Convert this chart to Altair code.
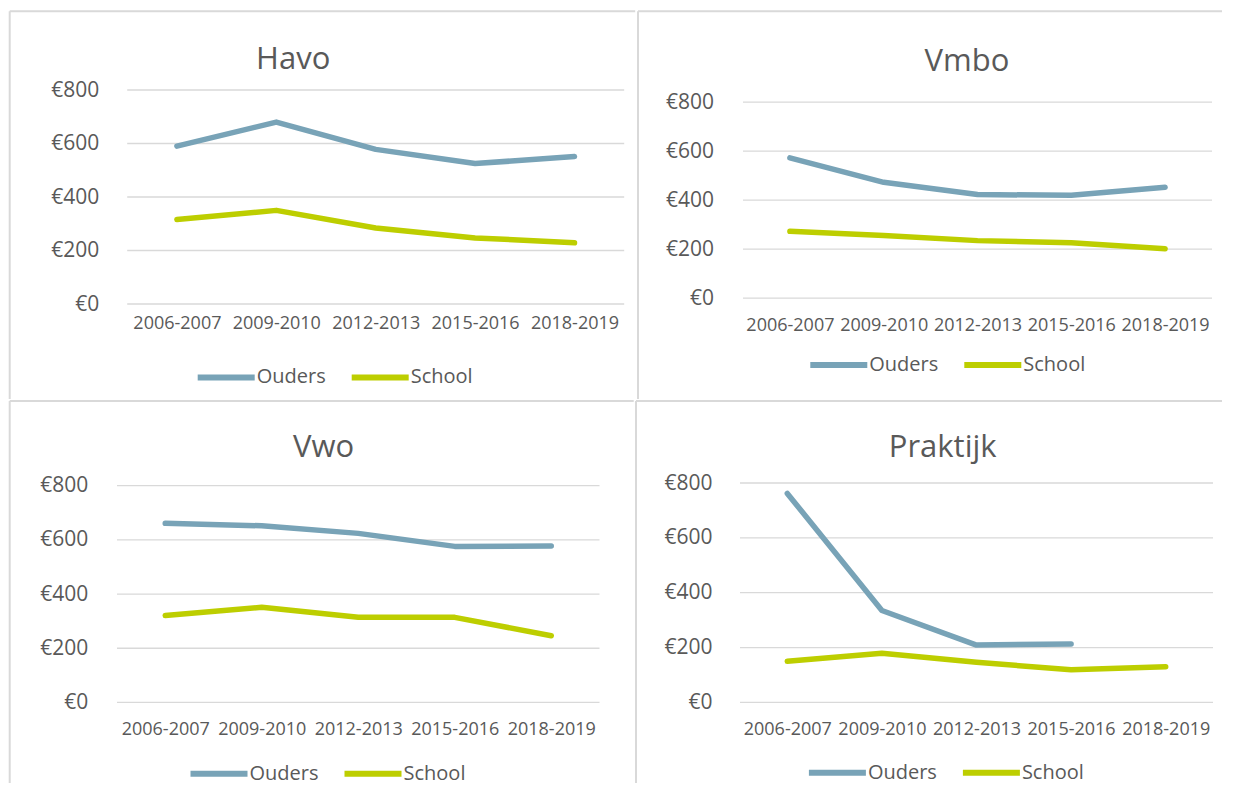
import altair as alt
import pandas as pd

periods = ["2006-2007", "2009-2010", "2012-2013", "2015-2016", "2018-2019"]
series_names = ["Ouders", "School"]
y_ticks = [0, 200, 400, 600, 800]

havo_ouders = [590, 680, 578, 525, 551]
havo_school = [316, 350, 284, 247, 229]
vmbo_ouders = [573, 473, 423, 420, 453]
vmbo_school = [273, 256, 235, 226, 202]
vwo_ouders = [661, 652, 624, 576, 577]
vwo_school = [321, 351, 314, 314, 246]
praktijk_ouders = [762, 335, 209, 213, None]
praktijk_school = [150, 179, 146, 119, 130]

FONT = "Open Sans"
TEXT = "#595959"
GRID = "#D9D9D9"
COLORS = ["#78A3B7", "#BDCE00"]


def panel(name, ouders, school, g):
    rows = []
    for p, o, s in zip(periods, ouders, school):
        rows.append({"period": p, "series": series_names[0], "value": o})
        rows.append({"period": p, "series": series_names[1], "value": s})
    df = pd.DataFrame(rows)

    y_scale = alt.Scale(domain=[0, g["ymax"]], nice=False)
    y_axis = alt.Axis(title=None, values=y_ticks, grid=False,
                      labelExpr="'€' + datum.value", domain=False,
                      ticks=False, tickSize=0, labelPadding=g["ylab"],
                      labelFont=FONT, labelFontSize=21, labelColor=TEXT)

    grid = alt.Chart(pd.DataFrame({"value": y_ticks})).mark_rule(
        color=GRID, strokeWidth=1.3
    ).encode(
        y=alt.Y("value:Q", scale=y_scale, axis=y_axis),
        x=alt.value(g["gx"]), x2=alt.value(g["w"]),
    )

    lines = alt.Chart(df).mark_line(
        strokeWidth=5.5, strokeCap="round", strokeJoin="round"
    ).encode(
        x=alt.X("period:N", sort=periods,
                scale=alt.Scale(padding=0.5, range=[g["gx"], g["w"]]),
                axis=alt.Axis(title=None, labelAngle=0, domain=False, ticks=False,
                              tickSize=0, grid=False, labelPadding=g["xlab"],
                              labelBaseline="middle", labelFont=FONT,
                              labelFontSize=18, labelColor=TEXT,
                              labelOverlap=False, labelBound=False)),
        y=alt.Y("value:Q", scale=y_scale, axis=y_axis),
        color=alt.Color("series:N",
                        scale=alt.Scale(domain=series_names, range=COLORS),
                        legend=alt.Legend(orient="none", legendX=g["legx"] + 16,
                                          legendY=g["legy"] - 12.5,
                                          direction="horizontal",
                                          title=None, symbolType="M-3,0H3",
                                          symbolSize=361, symbolStrokeWidth=6,
                                          labelFont=FONT, labelFontSize=20,
                                          labelColor=TEXT, labelOffset=18,
                                          columnPadding=14, padding=0)),
    )

    one = pd.DataFrame({"label": [name]})
    top_rule = alt.Chart(one).mark_rule(color=GRID, strokeWidth=2).encode(
        x=alt.value(g["fx"]), x2=alt.value(g["fx2"]), y=alt.value(g["fy"]))
    left_rule = alt.Chart(one).mark_rule(color=GRID, strokeWidth=2).encode(
        x=alt.value(g["fx"]), y=alt.value(g["fy"]), y2=alt.value(g["fy2"]))
    title = alt.Chart(one).mark_text(
        font=FONT, fontSize=31, color=TEXT, align="center", baseline="alphabetic"
    ).encode(x=alt.value(g["tx"]), y=alt.value(g["ty"]), text="label:N")

    return alt.layer(top_rule, left_rule, grid, lines, title).properties(
        width=g["w"], height=g["h"])


havo = panel("Havo", havo_ouders, havo_school, dict(
    w=507.2, gx=10.2, h=214, ymax=800, fx=-107.3, fx2=518.2, fy=-78.8, fy2=309,
    tx=176.2, ty=-21.5, legx=80.7, legy=287.2, xlab=19.8, ylab=18.3))
vmbo = panel("Vmbo", vmbo_ouders, vmbo_school, dict(
    w=469, gx=0, h=208.2, ymax=849.8, fx=-105, fx2=479, fy=-78.8, fy2=309,
    tx=224, ty=-18.8, legx=67.3, legy=274.8, xlab=27.3, ylab=29.5))
vwo = panel("Vwo", vwo_ouders, vwo_school, dict(
    w=482.5, gx=0, h=219.4, ymax=810, fx=-107.3, fx2=516.7, fy=-82, fy2=300,
    tx=206.6, ty=-25.6, legx=73.5, legy=290.4, xlab=26.6, ylab=29.3))
praktijk = panel("Praktijk", praktijk_ouders, praktijk_school, dict(
    w=473, gx=0, h=219.4, ymax=800, fx=-104, fx2=482, fy=-82, fy2=300,
    tx=202.7, ty=-25.6, legx=68.9, legy=289.4, xlab=26.6, ylab=28))

top = alt.hconcat(havo, vmbo, spacing=0).resolve_scale(color="independent").resolve_legend(color="independent")
bottom = alt.hconcat(vwo, praktijk, spacing=0).resolve_scale(color="independent").resolve_legend(color="independent")

chart = alt.vconcat(top, bottom, spacing=0).resolve_scale(
    color="independent").resolve_legend(color="independent").properties(
    padding={"left": 0, "top": 2, "right": 0, "bottom": 0},
    background="white",
).configure_view(stroke=None)

chart.save("out.html", embed_options={"renderer": "svg", "actions": False})
